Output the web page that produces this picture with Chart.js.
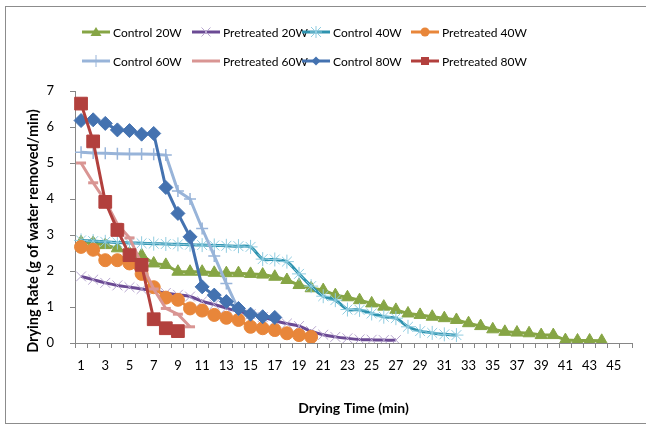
<!DOCTYPE html>
<html>
<head>
<meta charset="utf-8">
<script src="https://cdn.jsdelivr.net/npm/chart.js@4.4.1/dist/chart.umd.min.js"></script>
<style>
  html, body { margin: 0; padding: 0; background: #fff; }
  #wrap { position: relative; width: 646px; height: 431px; overflow: hidden; }
  #c { position: absolute; left: 0; top: 0; }
  #frame { position: absolute; left: 5px; top: 6px; width: 700px; height: 418px; border: 1px solid #8c8c8c; box-sizing: border-box; }
  .lg { position: absolute; height: 16px; display: flex; align-items: center; font-family: Lato, sans-serif; font-size: 12px; color: #000; white-space: nowrap; }
  .lg svg { display: block; margin-right: 3px; }
</style>
</head>
<body>
<div id="wrap">
  <div id="frame"></div>
  <canvas id="c" width="646" height="431"></canvas>
  <div id="legend"></div>
</div>
<script>
// ---- data ----
const categories = ['1','2','3','4','5','6','7','8','9','10','11','12','13','14','15','16','17','18','19','20',
  '21','22','23','24','25','26','27','28','29','30','31','32','33','34','35','36','37','38','39','40',
  '41','42','43','44','45','46'];

const seriesNames = ['Control 20W','Pretreated 20W','Control 40W','Pretreated 40W',
                     'Control 60W','Pretreated 60W','Control 80W','Pretreated 80W'];

const control20W = [2.80, 2.78, 2.72, 2.63, 2.49, 2.44, 2.21, 2.17, 1.98, 1.98, 1.98, 1.95, 1.94, 1.94, 1.92, 1.90,
  1.84, 1.75, 1.61, 1.52, 1.47, 1.33, 1.27, 1.19, 1.10, 1.01, 0.92, 0.82, 0.78, 0.73, 0.69, 0.64, 0.55, 0.47,
  0.38, 0.31, 0.29, 0.27, 0.22, 0.22, 0.08, 0.07, 0.07, 0.06];
const pretreated20W = [1.85, 1.76, 1.67, 1.60, 1.55, 1.50, 1.45, 1.39, 1.34, 1.29, 1.16, 1.07, 0.97, 0.88, 0.80,
  0.72, 0.62, 0.54, 0.47, 0.33, 0.23, 0.17, 0.13, 0.10, 0.09, 0.08, 0.08];
const control40W = [2.85, 2.83, 2.81, 2.79, 2.78, 2.77, 2.76, 2.75, 2.74, 2.73, 2.72, 2.71, 2.70, 2.69, 2.67, 2.33,
  2.32, 2.26, 1.92, 1.58, 1.30, 1.19, 0.93, 0.92, 0.82, 0.73, 0.69, 0.45, 0.33, 0.28, 0.24, 0.22];
const pretreated40W = [2.67, 2.59, 2.30, 2.30, 2.21, 1.92, 1.55, 1.26, 1.20, 0.96, 0.90, 0.78, 0.70, 0.64, 0.45,
  0.41, 0.36, 0.27, 0.22, 0.17];
const control60W = [5.30, 5.28, 5.27, 5.26, 5.25, 5.25, 5.24, 5.22, 4.22, 4.00, 3.18, 2.42, 1.65, 0.92];
const pretreated60W = [5.00, 4.45, 3.95, 3.30, 2.92, 2.20, 1.50, 0.96, 0.80, 0.45];
const control80W = [6.18, 6.20, 6.10, 5.92, 5.90, 5.80, 5.82, 4.32, 3.60, 2.95, 1.56, 1.33, 1.15, 0.96, 0.80, 0.73, 0.71];
const pretreated80W = [6.65, 5.60, 3.92, 3.14, 2.44, 2.17, 0.66, 0.41, 0.33];

const yTicks = [0, 1, 2, 3, 4, 5, 6, 7];
const xTitle = 'Drying Time (min)';
const yTitle = 'Drying Rate (g of water removed/min)';

// ---- styles ----
const styles = [
  { line: '#86A545', fill: '#86A545', stroke: '#86A545', point: 'triangle', r: 7, pw: 1, tension: 0 },
  { line: '#6B4A94', fill: 'rgba(0,0,0,0)', stroke: '#B7A6CF', point: 'crossRot', r: 7, pw: 1, tension: 0.35 },
  { line: '#2E93AF', fill: 'rgba(0,0,0,0)', stroke: '#8FCCE0', point: 'star', r: 7, pw: 1, tension: 0.25 },
  { line: '#E8863A', fill: '#E8863A', stroke: '#E8863A', point: 'circle', r: 6.5, pw: 1, tension: 0 },
  { line: '#98B4D9', fill: 'rgba(0,0,0,0)', stroke: '#98B4D9', point: 'cross', r: 6, pw: 1.5, tension: 0 },
  { line: '#D99593', fill: '#D99593', stroke: '#D99593', point: 'line', r: 5, pw: 3, tension: 0 },
  { line: '#4472B0', fill: '#4472B0', stroke: '#4472B0', point: 'rectRot', r: 7, pw: 1, tension: 0 },
  { line: '#B2403D', fill: '#B2403D', stroke: '#B2403D', point: 'rect', r: 9, pw: 1, tension: 0 }
];
const seriesData = [control20W, pretreated20W, control40W, pretreated40W, control60W, pretreated60W, control80W, pretreated80W];

const datasets = seriesNames.map((name, i) => ({
  label: name,
  data: seriesData[i],
  borderColor: styles[i].line,
  borderWidth: 3,
  backgroundColor: styles[i].fill,
  pointBackgroundColor: styles[i].fill,
  pointBorderColor: styles[i].stroke,
  pointBorderWidth: styles[i].pw,
  pointStyle: styles[i].point,
  pointRadius: styles[i].r,
  pointHoverRadius: styles[i].r,
  tension: styles[i].tension,
  fill: false,
  order: 8 - i
}));

// ---- legend (HTML) ----
function markerSvg(s) {
  const c = s.stroke, f = s.fill;
  let m = '';
  switch (s.point) {
    case 'triangle': m = `<polygon points="14,1 19.5,10 8.5,10" fill="${f}"/>`; break;
    case 'crossRot': m = `<path d="M9.5,1.5 L18.5,10.5 M18.5,1.5 L9.5,10.5" stroke="${c}" stroke-width="1"/>`; break;
    case 'star': m = `<path d="M9,1 L19,11 M19,1 L9,11 M14,0 L14,12 M8,6 L20,6" stroke="${c}" stroke-width="1"/>`; break;
    case 'circle': m = `<circle cx="14" cy="6" r="4.5" fill="${f}"/>`; break;
    case 'cross': m = `<path d="M14,0 L14,12 M8,6 L20,6" stroke="${c}" stroke-width="1"/>`; break;
    case 'line': m = ''; break;
    case 'rectRot': m = `<polygon points="14,1.5 18.5,6 14,10.5 9.5,6" fill="${f}"/>`; break;
    case 'rect': m = `<rect x="10" y="2" width="8" height="8" fill="${f}"/>`; break;
  }
  return `<svg width="28" height="12" viewBox="0 0 28 12"><line x1="0" y1="6" x2="28" y2="6" stroke="${s.line}" stroke-width="3"/>${m}</svg>`;
}
const legendCols = [82, 192, 302, 411];
const legendRows = [32, 61];
const legendEl = document.getElementById('legend');
seriesNames.forEach((name, i) => {
  const d = document.createElement('div');
  d.className = 'lg';
  d.style.left = legendCols[i % 4] + 'px';
  d.style.top = (legendRows[Math.floor(i / 4)] - 8) + 'px';
  d.innerHTML = markerSvg(styles[i]) + '<span>' + name + '</span>';
  legendEl.appendChild(d);
});

// ---- chart ----
function draw() {
  Chart.defaults.font.family = 'Lato, sans-serif';
  Chart.defaults.font.size = 13;
  Chart.defaults.color = '#000';
  new Chart(document.getElementById('c'), {
    type: 'line',
    data: { labels: categories, datasets },
    options: {
      responsive: false,
      animation: false,
      events: [],
      layout: { padding: { top: 91, right: 14, bottom: 0, left: 0 } },
      plugins: { legend: { display: false }, tooltip: { enabled: false } },
      scales: {
        x: {
          type: 'category',
          offset: true,
          grid: { display: true, drawOnChartArea: false, drawTicks: true, tickLength: 5, offset: true, color: '#868686' },
          border: { display: true, color: '#868686', width: 1 },
          ticks: {
            autoSkip: false, maxRotation: 0, minRotation: 0, padding: 10, color: '#000',
            font: { size: 13 },
            callback: (v, i) => (i % 2 === 0 ? categories[i] : '')
          },
          title: { display: true, text: xTitle, color: '#000', font: { size: 14, weight: 'bold' }, padding: { top: 0, bottom: 14 } },
          afterFit: s => { s.height = 88; }
        },
        y: {
          min: yTicks[0], max: yTicks[yTicks.length - 1],
          afterBuildTicks: s => { s.ticks = yTicks.map(v => ({ value: v })); },
          grid: { display: true, drawOnChartArea: false, drawTicks: true, tickLength: 5, color: '#868686' },
          border: { display: true, color: '#868686', width: 1 },
          ticks: { padding: 16, color: '#000', font: { size: 13 } },
          title: { display: true, text: yTitle + '        ', color: '#000', font: { size: 14.5, weight: 'bold' }, padding: { top: 25, bottom: 0 } },
          afterFit: s => { s.width = 75; }
        }
      }
    }
  });
}
if (document.fonts && document.fonts.load) {
  Promise.all([document.fonts.load('13px Lato'), document.fonts.load('bold 13px Lato')]).then(draw, draw);
} else { draw(); }
</script>
</body>
</html>
